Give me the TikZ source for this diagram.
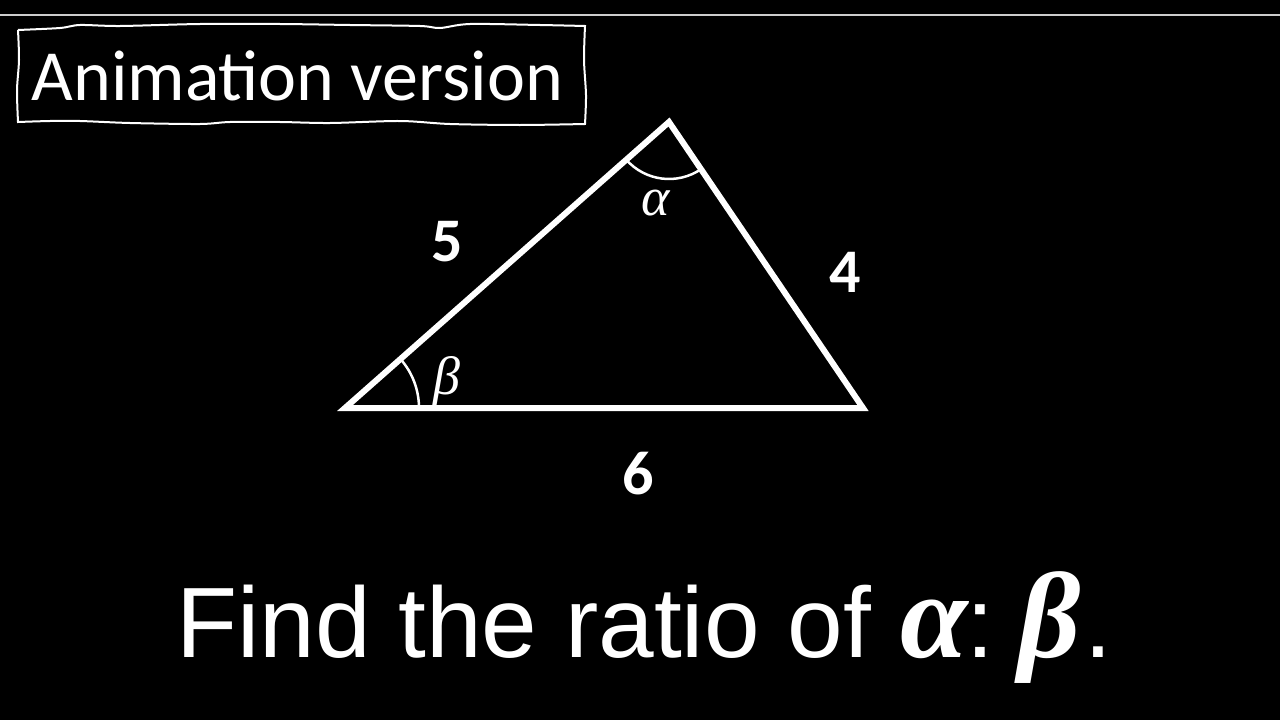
\documentclass[tikz,border=0pt]{standalone}
\usepackage{fontspec}
\setmainfont{Carlito}
\newfontfamily\qfont{Liberation Sans}
\newfontfamily\gfont{Liberation Serif}
\begin{document}
\begin{tikzpicture}[x=1pt,y=-1pt,
  edge/.style={draw=white,line width=6pt,line join=miter},
  anglearc/.style={draw=white,line width=2.5pt},
  sidelabel/.style={text=white,font=\fontsize{62}{70}\selectfont\bfseries},
  anglelabel/.style={text=white,font=\fontsize{54}{60}\selectfont\gfont\itshape},
  qtext/.style={text=white,anchor=base west,inner sep=0pt,font=\fontsize{100}{110}\selectfont\qfont},
  qgreek/.style={text=white,anchor=base west,inner sep=0pt,font=\fontsize{122}{130}\selectfont\gfont\bfseries\itshape},
  wavy/.style={draw=white,line width=2pt}]
\useasboundingbox (0,0) rectangle (1280,720);
\fill[black] (0,0) rectangle (1280,720);
\draw[draw=white!80!black,line width=2pt] (0,15) -- (1280,15);
% hand drawn box
\draw[wavy] plot[smooth] coordinates {(18,30) (60,28) (80,25) (120,26) (200,24) (280,24) (350,25) (420,26) (440,28) (470,24) (540,25) (585,26)}
  -- plot[smooth] coordinates {(585,26) (584,60) (586,95) (585,124)}
  -- plot[smooth] coordinates {(585,124) (520,125) (450,124) (400,121) (330,123) (280,122) (230,122) (200,124) (130,123) (80,121) (50,121) (18,122)}
  -- plot[smooth] coordinates {(18,122) (17,90) (19,60) (18,30)};
\node[text=white,font=\fontsize{72}{82}\selectfont,anchor=base west] (title) at (28,100) {Animation version};
% triangle
\coordinate (B) at (345,408);
\coordinate (A) at (669,122);
\coordinate (C) at (863,408);
\draw[edge] (B) -- (A) -- (C) -- cycle;
\draw[anglearc] (B) ++(0:74) arc[start angle=0,end angle=-41.4,radius=74];
\draw[anglearc] (A) ++(138.6:57) arc[start angle=138.6,end angle=55.9,radius=57];
\node[sidelabel] (l5) at (447,242) {5};
\node[sidelabel] (l4) at (845,272) {4};
\node[sidelabel] (l6) at (638,474) {6};
\node[anglelabel] (la) at (656,203) {α};
\node[anglelabel] (lb) at (447,381) {β};
% question
\node[qtext] (q1) at (176,657) {Find the ratio of};
\node[qgreek] (qa) at (900,657) {α};
\node[qtext] (qc) at (966,657) {:};
\node[qgreek] (qb) at (1018,657) {β};
\node[qtext] (qd) at (1084,657) {.};
\end{tikzpicture}
\end{document}
